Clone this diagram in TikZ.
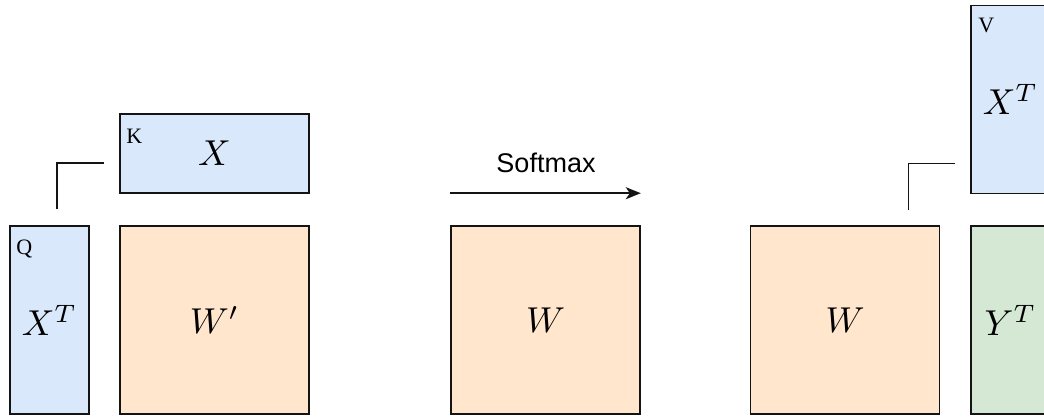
\documentclass[tikz,border=0pt]{standalone}
\usepackage{graphicx}
\usepackage{fontspec}
\usetikzlibrary{arrows.meta}
\newfontfamily\tagfont{Liberation Serif}
\newfontfamily\lblfont{Liberation Sans}
\newcommand\mth[1]{\scalebox{3.6}{$#1$}}
\definecolor{qblue}{HTML}{DAE8FC}
\definecolor{worange}{HTML}{FFE6CC}
\definecolor{ygreen}{HTML}{D5E8D4}
\definecolor{edgec}{HTML}{141414}
\tikzset{
  mat/.style={draw=edgec, line width=1.6pt, inner sep=0pt},
  tall/.style={mat, minimum width=79pt, minimum height=188pt},
  square/.style={mat, minimum width=189pt, minimum height=188pt, fill=worange},
  wide/.style={mat, minimum width=189pt, minimum height=79pt},
  tag/.style={inner sep=0pt, anchor=base west, font=\tagfont\fontsize{22}{26}\selectfont},
  conn/.style={draw=edgec, line width=1.6pt},
}
\begin{document}
\begin{tikzpicture}[x=1pt,y=-1pt]
\useasboundingbox (0,0) rectangle (1044,416);
% left group
\node[tall, fill=qblue] (q) at (49.5,320) {\mth{X^T}};
\node[square] (wp) at (214.5,320) {\mth{W'}};
\node[wide, fill=qblue] (k) at (214.5,153.5) {\mth{X}};
\node[tag] (ql) at ([shift={(7pt,-29pt)}]q.north west) {Q};
\node[tag] (kl) at ([shift={(7pt,-30pt)}]k.north west) {K};
\coordinate (qs) at ([shift={(7.5pt,16pt)}]q.north);
\coordinate (ke) at ([shift={(-15pt,-9.5pt)}]k.west);
\draw[conn] (qs) |- (ke);
% middle
\node[square] (wm) at (545.5,320) {\mth{W}};
\coordinate (as) at ([yshift=32pt]wm.north west);
\coordinate (ae) at ([yshift=32pt]wm.north east);
\draw[conn, -{Stealth[length=15pt,width=12pt,inset=4pt]}] (as) -- (ae);
\node[inner sep=0pt, anchor=base, font=\lblfont\fontsize{27}{32}\selectfont] (sm) at (546,172) {Softmax};
% right group
\node[square] (wr) at (845,320) {\mth{W}};
\node[tall, fill=ygreen] (y) at (1010.5,320) {\mth{Y^T}};
\node[tall, fill=qblue] (v) at (1010.5,99.5) {\mth{X^T}};
\node[tag] (vl) at ([shift={(8pt,-28pt)}]v.north west) {V};
\coordinate (vs) at ([shift={(-32pt,15pt)}]wr.north east);
\coordinate (ve) at ([shift={(-15pt,31pt)}]v.south west);
\draw[conn] (vs) |- (ve);
\end{tikzpicture}
\end{document}
